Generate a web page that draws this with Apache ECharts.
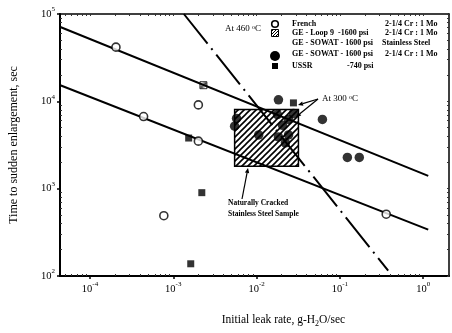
<!DOCTYPE html>
<html>
<head>
<meta charset="utf-8">
<script src="https://cdn.jsdelivr.net/npm/echarts@6/dist/echarts.min.js"></script>
<style>
  html, body { margin: 0; padding: 0; background: #fff; }
  #chart { width: 452px; height: 333px; }
</style>
</head>
<body>
<div id="chart"></div>
<script>
// leak rate in g-H2O/sec, time in sec
const frenchLeak = [2.05e-4, 4.4e-4, 2.0e-3, 2.0e-3, 7.7e-4, 0.36];
const frenchTime = [41700, 6700, 9100, 3500, 490, 510];

const loop9Leak = [2.3e-3];
const loop9Time = [15300];

const sowatLeak = [0.0183, 0.0617, 0.123, 0.171, 5.75e-3, 5.45e-3, 0.0106, 0.0183, 0.0222, 0.0242, 0.0205, 0.0242, 0.0277, 0.0178];
const sowatTime = [10400, 6200, 2280, 2280, 6370, 5190, 4120, 3910, 3350, 4120, 5320, 6210, 7240, 7060];

const ussrLeak = [1.53e-3, 2.2e-3, 1.62e-3, 0.0277];
const ussrTime = [3800, 900, 138, 9600];

const crackedBoxLeak = [5.45e-3, 0.0318];
const crackedBoxTime = [1810, 8040];

const upperFitLeak = [4.4e-5, 1.15];
const upperFitTime = [71000, 1400];
const lowerFitLeak = [4.4e-5, 1.15];
const lowerFitTime = [15300, 340];
const limitLeak = [1.34e-3, 0.38];
const limitTime = [100000, 115];

const xTickExp = [-4, -3, -2, -1, 0];
const yTickExp = [2, 3, 4, 5];

const serif = '"Liberation Serif", "DejaVu Serif", serif';

function pts(xs, ys) {
    return xs.map((x, i) => [Math.log10(x), Math.log10(ys[i])]);
}

function minorTicks(lo, hi) {
    const out = [];
    for (let n = lo; n <= hi; n++) {
        for (let k = 2; k <= 9; k++) out.push(n + Math.log10(k));
    }
    return out;
}

function hatchCanvas(size, width) {
    const c = document.createElement('canvas');
    c.width = size; c.height = size;
    const g = c.getContext('2d');
    g.strokeStyle = '#000';
    g.lineWidth = width;
    g.beginPath();
    g.moveTo(-1, size + 1); g.lineTo(size + 1, -1);
    g.moveTo(-1, 1); g.lineTo(1, -1);
    g.moveTo(size - 1, size + 1); g.lineTo(size + 1, size - 1);
    g.stroke();
    return c;
}

const boxHatch = { image: hatchCanvas(6, 1.6), repeat: 'repeat' };
const markHatch = { image: hatchCanvas(3, 1), repeat: 'repeat' };

function arrow(x1, y1, x2, y2) {
    const dx = x2 - x1, dy = y2 - y1;
    const len = Math.sqrt(dx * dx + dy * dy);
    const ux = dx / len, uy = dy / len;
    const bx = x2 - ux * 5, by = y2 - uy * 5;
    return [
        { type: 'line', shape: { x1: x1, y1: y1, x2: bx, y2: by }, style: { stroke: '#000', lineWidth: 1.2 } },
        { type: 'polygon', shape: { points: [[x2, y2], [bx - uy * 2.2, by + ux * 2.2], [bx + uy * 2.2, by - ux * 2.2]] }, style: { fill: '#000' } }
    ];
}

function txt(x, y, s, size, bold) {
    return {
        type: 'text', x: x, y: y,
        style: {
            text: s, fill: '#000', font: (bold ? 'bold ' : '') + size + 'px ' + serif,
            verticalAlign: 'middle', align: 'left'
        }
    };
}

const expLabel = {
    formatter: function (v) { return '{b|10}{s|' + Math.round(v) + '}'; },
    rich: {
        b: { fontFamily: serif, fontSize: 10.5, lineHeight: 16, color: '#000' },
        s: { fontFamily: serif, fontSize: 7, lineHeight: 8, verticalAlign: 'top', color: '#000' }
    }
};

const xRange = { min: -4.36, max: 0.31 };
const yRange = { min: 2, max: 5 };

const legendY = [24, 33, 43, 54, 66];
const graphics = [
    // legend symbols
    { type: 'circle', shape: { cx: 275, cy: legendY[0], r: 3.3 }, style: { fill: '#fff', stroke: '#000', lineWidth: 1.6 } },
    { type: 'rect', shape: { x: 271.5, y: legendY[1] - 3.5, width: 7, height: 7 }, style: { fill: markHatch, stroke: '#000', lineWidth: 1 } },
    { type: 'circle', shape: { cx: 275, cy: 56, r: 5 }, style: { fill: '#000' } },
    { type: 'rect', shape: { x: 272, y: legendY[4] - 3, width: 6, height: 6 }, style: { fill: '#000' } },
    // legend text
    txt(292, legendY[0], 'French', 8, true),
    txt(385, legendY[0], '2-1/4 Cr : 1 Mo', 8, true),
    txt(292, legendY[1], 'GE - Loop 9', 8, true),
    txt(338, legendY[1], '-1600 psi', 8, true),
    txt(385, legendY[1], '2-1/4 Cr : 1 Mo', 8, true),
    txt(292, legendY[2], 'GE - SOWAT - 1600 psi', 8, true),
    txt(382, legendY[2], 'Stainless Steel', 8, true),
    txt(292, legendY[3], 'GE - SOWAT - 1600 psi', 8, true),
    txt(385, legendY[3], '2-1/4 Cr : 1 Mo', 8, true),
    txt(292, legendY[4], 'USSR', 8, true),
    txt(347, legendY[4], '-740 psi', 8, true),
    // annotations
    {
        type: 'text', x: 225, y: 29,
        style: {
            text: 'At 460 {s|o}C', fill: '#000', font: '9px ' + serif, verticalAlign: 'middle',
            rich: { s: { fontSize: 6, lineHeight: 6, verticalAlign: 'top', fontFamily: serif } }
        }
    },
    {
        type: 'text', x: 322, y: 99,
        style: {
            text: 'At 300 {s|o}C', fill: '#000', font: '9px ' + serif, verticalAlign: 'middle',
            rich: { s: { fontSize: 6, lineHeight: 6, verticalAlign: 'top', fontFamily: serif } }
        }
    },
    txt(228, 203, 'Naturally Cracked', 7.5, true),
    txt(228, 214, 'Stainless Steel Sample', 7.5, true)
].concat(arrow(318, 99, 298, 105), arrow(318, 99, 296, 117), arrow(242, 199, 248, 168));

const chart = echarts.init(document.getElementById('chart'), null, { renderer: 'canvas' });

const option = {
    animation: false,
    backgroundColor: '#fff',
    grid: { left: 59, right: 3, top: 14, bottom: 51 },
    xAxis: [
        Object.assign({
            type: 'value', position: 'bottom',
            axisLine: { onZero: false, lineStyle: { color: '#000', width: 2 } },
            splitLine: { show: false },
            axisTick: { customValues: xTickExp, length: 3, lineStyle: { color: '#000', width: 1.5 } },
            axisLabel: Object.assign({ customValues: xTickExp, margin: 5 }, expLabel),
            name: '{t|Initial leak rate, g-H}{sub|2}{t|O/sec}',
            nameLocation: 'middle', nameGap: 36,
            nameTextStyle: {
                padding: [0, 0, 0, 58],
                rich: {
                    t: { fontFamily: serif, fontSize: 11.5, lineHeight: 16, color: '#000' },
                    sub: { fontFamily: serif, fontSize: 8, lineHeight: 10, verticalAlign: 'bottom', color: '#000' }
                }
            }
        }, xRange),
        Object.assign({
            type: 'value', position: 'bottom',
            axisLine: { show: false, onZero: false }, splitLine: { show: false },
            axisTick: { customValues: minorTicks(-5, 0), inside: true, length: 2, lineStyle: { color: '#333', width: 1 } },
            axisLabel: { show: false }
        }, xRange),
        Object.assign({
            type: 'value', position: 'top',
            axisLine: { onZero: false, lineStyle: { color: '#000', width: 1.5 } }, splitLine: { show: false },
            axisTick: { customValues: xTickExp.concat(minorTicks(-5, 0)), inside: true, length: 2, lineStyle: { color: '#333', width: 1 } },
            axisLabel: { show: false }
        }, xRange)
    ],
    yAxis: [
        Object.assign({
            type: 'value', position: 'left',
            axisLine: { onZero: false, lineStyle: { color: '#000', width: 2 } },
            splitLine: { show: false },
            axisTick: { customValues: yTickExp, length: 3, lineStyle: { color: '#000', width: 1.5 } },
            axisLabel: Object.assign({ customValues: yTickExp, margin: 5 }, expLabel),
            name: 'Time to sudden enlargement, sec',
            nameLocation: 'middle', nameRotate: 90, nameGap: 40,
            nameTextStyle: { fontFamily: serif, fontSize: 12, color: '#000' }
        }, yRange),
        Object.assign({
            type: 'value', position: 'left',
            axisLine: { show: false, onZero: false }, splitLine: { show: false },
            axisTick: { customValues: minorTicks(2, 4), inside: true, length: 2, lineStyle: { color: '#333', width: 1 } },
            axisLabel: { show: false }
        }, yRange),
        Object.assign({
            type: 'value', position: 'right',
            axisLine: { onZero: false, lineStyle: { color: '#000', width: 1.5 } }, splitLine: { show: false },
            axisTick: { customValues: yTickExp.concat(minorTicks(2, 4)), inside: true, length: 2, lineStyle: { color: '#333', width: 1 } },
            axisLabel: { show: false }
        }, yRange)
    ],
    graphic: graphics,
    series: [
        {
            name: 'upper fit', type: 'line', data: pts(upperFitLeak, upperFitTime),
            symbol: 'none', lineStyle: { color: '#000', width: 2 }, z: 2
        },
        {
            name: 'lower fit', type: 'line', data: pts(lowerFitLeak, lowerFitTime),
            symbol: 'none', lineStyle: { color: '#000', width: 2 }, z: 2
        },
        {
            name: 'limit', type: 'line', data: pts(limitLeak, limitTime),
            symbol: 'none', lineStyle: { color: '#000', width: 2, type: [38, 6, 2, 6] }, z: 2
        },
        {
            name: 'Naturally Cracked Stainless Steel Sample', type: 'custom',
            data: [[Math.log10(crackedBoxLeak[0]), Math.log10(crackedBoxTime[0]), Math.log10(crackedBoxLeak[1]), Math.log10(crackedBoxTime[1])]],
            encode: { x: [0, 2], y: [1, 3] },
            renderItem: function (params, api) {
                const a = api.coord([api.value(0), api.value(1)]);
                const b = api.coord([api.value(2), api.value(3)]);
                return {
                    type: 'rect',
                    shape: { x: Math.min(a[0], b[0]), y: Math.min(a[1], b[1]), width: Math.abs(b[0] - a[0]), height: Math.abs(b[1] - a[1]) },
                    style: { fill: boxHatch, stroke: '#000', lineWidth: 1.5 }
                };
            },
            z: 3
        },
        {
            name: 'French', type: 'scatter', data: pts(frenchLeak, frenchTime),
            symbol: 'circle', symbolSize: 8,
            itemStyle: { color: '#fff', borderColor: '#000', borderWidth: 1.6 }, z: 5
        },
        {
            name: 'GE - Loop 9', type: 'scatter', data: pts(loop9Leak, loop9Time),
            symbol: 'rect', symbolSize: 7,
            itemStyle: { color: markHatch, borderColor: '#000', borderWidth: 1 }, z: 5
        },
        {
            name: 'GE - SOWAT', type: 'scatter', data: pts(sowatLeak, sowatTime),
            symbol: 'circle', symbolSize: 9.5,
            itemStyle: { color: '#000' }, z: 5
        },
        {
            name: 'USSR', type: 'scatter', data: pts(ussrLeak, ussrTime),
            symbol: 'rect', symbolSize: 7,
            itemStyle: { color: '#000' }, z: 5
        }
    ]
};

chart.setOption(option);

window.addEventListener('resize', function () {
    chart.resize();
});
</script>
</body>
</html>
